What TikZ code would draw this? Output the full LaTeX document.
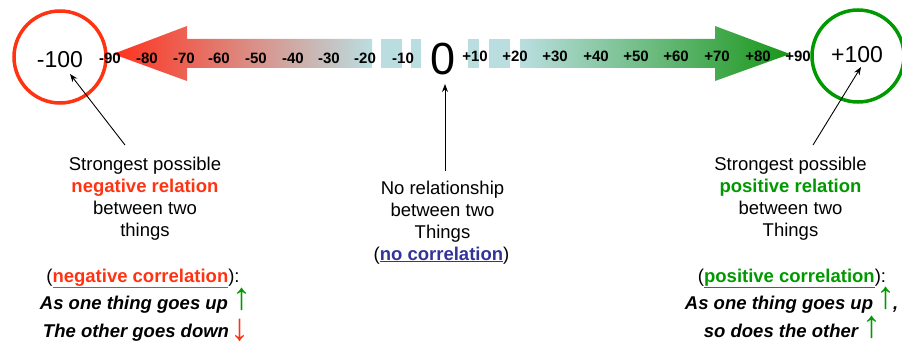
\documentclass[tikz,border=0pt]{standalone}
\usepackage{fontspec}
\setmainfont{Liberation Sans}
\usetikzlibrary{arrows.meta}
\definecolor{negred}{RGB}{255,51,17}
\definecolor{posgreen}{RGB}{0,153,0}
\definecolor{nullblue}{RGB}{51,51,153}
\definecolor{tealzero}{RGB}{186,222,224}
\definecolor{arrred}{RGB}{255,50,30}
\definecolor{arrgreen}{RGB}{25,150,25}
\begin{document}
\begin{tikzpicture}[x=1pt,y=-1pt,
  tick/.style={font=\fontsize{15}{18}\selectfont\bfseries, inner sep=0},
  body/.style={font=\fontsize{18.5}{22}\selectfont, inner sep=0, anchor=base},
  emph/.style={font=\fontsize{18.5}{22}\selectfont\bfseries\itshape, inner sep=0, anchor=base},
  bigval/.style={font=\fontsize{23}{26}\selectfont, inner sep=0},
  ring/.style={circle, line width=3.5pt, minimum size=92pt, inner sep=0},
  pointer/.style={-{Stealth[length=8pt,width=6pt]}, line width=0.9pt},
  block/.style={fill=tealzero, draw=none},
  updown/.style={font=\fontsize{38}{38}\selectfont, inner sep=0}
]
\useasboundingbox (0,0) rectangle (902,345);

% gradient arrows
\shade[left color=arrred, right color=tealzero]
  (113,54) -- (187,26) -- (187,39) -- (372,39) -- (372,68) -- (187,68) -- (187,81) -- cycle;
\shade[left color=tealzero, right color=arrgreen]
  (520,39) -- (715,39) -- (715,26) -- (790,54) -- (715,81) -- (715,68) -- (520,68) -- cycle;
\fill[block] (381,39) rectangle (402,68);
\fill[block] (411,39) rectangle (421,68);
\fill[block] (468,39) rectangle (479,68);
\fill[block] (489,39) rectangle (510,68);

% circles
\node[ring, draw=negred] (negring) at (60,57) {};
\node[ring, draw=posgreen] (posring) at (858,56) {};
\node[bigval] (negval) at (60,60) {-100};
\node[bigval] (posval) at (857,55) {+100};
\node[font=\fontsize{45}{48}\selectfont, inner sep=0] (zero) at (443,59) {0};

% ticks
\foreach \v/\x in {90/110,80/147,70/184,60/219,50/256,40/293,30/329,20/365,10/403}
  \node[tick] (m\v) at (\x,58) {-\v};
\foreach \v/\x in {10/475,20/515,30/555,40/596,50/636,60/676,70/717,80/758,90/798}
  \node[tick] (p\v) at (\x,56.5) {+\v};

% left block
\node[body] (l1) at (145,170) {Strongest possible};
\node[body, font=\fontsize{18.5}{22}\selectfont\bfseries, text=negred] (l2) at (145,192) {negative relation};
\node[body] (l3) at (145,214) {between two};
\node[body] (l4) at (145,236) {things};
\node[body] (l5) at (143,282) {(\textcolor{negred}{\textbf{\underline{negative correlation}}}):};
\node[emph] (l6) at (134,309) {As one thing goes up};
\node[emph] (l7) at (136,337) {The other goes down};
\node[updown, text=posgreen] (l6a) at (242,299) {↑};
\node[updown, text=negred] (l7a) at (240,330) {↓};

% center block
\node[body] (c1) at (442.5,194) {No relationship};
\node[body] (c2) at (442.5,216) {between two};
\node[body] (c3) at (442.5,238) {Things};
\node[body] (c4) at (441.5,260) {(\textcolor{nullblue}{\textbf{\underline{no correlation}}})};

% right block
\node[body] (r1) at (790.5,170) {Strongest possible};
\node[body, font=\fontsize{18.5}{22}\selectfont\bfseries, text=posgreen] (r2) at (790.5,192) {positive relation};
\node[body] (r3) at (790.5,214) {between two};
\node[body] (r4) at (790.5,236) {Things};
\node[body] (r5) at (792,282) {(\textcolor{posgreen}{\textbf{\underline{positive correlation}}}):};
\node[emph] (r6) at (779,309) {As one thing goes up};
\node[emph] (r7) at (781,337) {so does the other};
\node[updown, text=posgreen] (r6a) at (886,298) {↑};
\node[emph, anchor=base west] (r6c) at (893,309) {,};
\node[updown, text=posgreen] (r7a) at (872,327) {↑};

% pointers
\coordinate (negtip) at (70,74);
\coordinate (negtail) at (125,145);
\coordinate (postip) at (861,67);
\coordinate (postail) at (813,145);
\coordinate (zerotip) at (445,84);
\coordinate (zerotail) at (445,171);
\draw[pointer] (negtail) -- (negtip);
\draw[pointer] (postail) -- (postip);
\draw[pointer] (zerotail) -- (zerotip);
\end{tikzpicture}
\end{document}
